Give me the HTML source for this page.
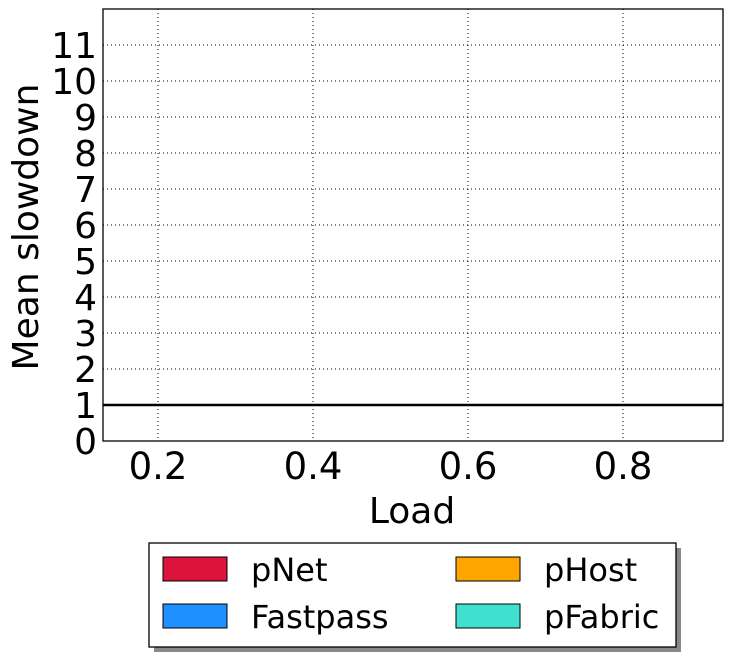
<!DOCTYPE html>
<html><head><meta charset="utf-8"><style>
body{margin:0;background:#fff;font-family:"Liberation Sans","DejaVu Sans",sans-serif;}
svg text{font-family:"DejaVu Sans","Liberation Sans",sans-serif;fill:#000;}
</style></head><body>
<svg id="chart" width="732" height="657">
<g id="grid"></g><g id="marks"></g><g id="axes"></g><g id="legend"></g>
</svg>
<script>
const loads=[0.2,0.4,0.6,0.8];
const pNet=[0,0,0,0];
const pHost=[0,0,0,0];
const fastpass=[0,0,0,0];
const pFabric=[0,0,0,0];
const yTicks=[0,1,2,3,4,5,6,7,8,9,10,11];
const xTicks=[0.2,0.4,0.6,0.8];
const refLine=[1];

const L=103,R=723,T=9,B=441;
const xMin=0.129,xMax=0.929,yMin=0,yMax=12;
const xs=v=>L+(v-xMin)/(xMax-xMin)*(R-L);
const ys=v=>B-(v-yMin)/(yMax-yMin)*(B-T);
const NS='http://www.w3.org/2000/svg';
function mk(tag,attrs,parent,text){const e=document.createElementNS(NS,tag);for(const k in attrs)e.setAttribute(k,attrs[k]);if(text!==undefined)e.textContent=text;parent.appendChild(e);return e;}
const grid=document.getElementById('grid'),marks=document.getElementById('marks'),axes=document.getElementById('axes'),leg=document.getElementById('legend');
yTicks.forEach(t=>{const y=ys(t);
 const g=mk('line',{x1:L,x2:R,y1:y,y2:y,stroke:'#000','stroke-width':1,'stroke-dasharray':'1,3'},grid);
 
 
 const tx=mk('text',{x:97,y:y+13,'text-anchor':'end','font-size':36},axes,String(t));
 
 
});
xTicks.forEach(t=>{const x=xs(t);
 const g=mk('line',{x1:x,x2:x,y1:T,y2:B,stroke:'#000','stroke-width':1,'stroke-dasharray':'1,3'},grid);
 
 
 const tx=mk('text',{x:x,y:479,'text-anchor':'middle','font-size':37},axes,t.toFixed(1));
 
 
});
const series=[['pnet',pNet,'#dc143c'],['fastpass',fastpass,'#1e90ff'],['phost',pHost,'#ffa500'],['pfabric',pFabric,'#40e0d0']];
const bw=20;
loads.forEach((ld,i)=>{series.forEach((s,j)=>{
 const x=xs(ld)-2*bw+j*bw;const v=s[1][i];
 const r=mk('rect',{x:x,y:ys(v),width:bw,height:Math.max(0,B-ys(v)),fill:s[2]},marks);
 
 
});});
refLine.forEach(v=>{const l=mk('line',{x1:L,x2:R,y1:ys(v),y2:ys(v),stroke:'#000','stroke-width':2.5},marks);
 
 });
const fr=mk('rect',{x:L,y:T,width:R-L,height:B-T,fill:'none',stroke:'#000','stroke-width':1.3},axes);


const xl=mk('text',{x:412,y:523,'text-anchor':'middle','font-size':36},axes,'Load');


const yl=mk('text',{x:0,y:0,'text-anchor':'middle','font-size':36,transform:'translate(38,227) rotate(-90)'},axes,'Mean slowdown');


const sh=mk('rect',{x:154,y:548,width:527,height:104,fill:'#888'},leg);


const lb=mk('rect',{x:149,y:543,width:527,height:104,fill:'#fff',stroke:'#000','stroke-width':1.3},leg);


const entries=[['pNet','#dc143c',163,557],['pHost','#ffa500',456,557],['Fastpass','#1e90ff',163,604],['pFabric','#40e0d0',456,604]];
entries.forEach(e=>{
 const g=mk('g',{},leg);
 
 
 mk('rect',{x:e[2],y:e[3],width:64,height:24,fill:e[1],stroke:'#000','stroke-width':1},g);
 mk('text',{x:e[2]+88,y:e[3]+24,'font-size':32},g,e[0]);
});
</script>
</body></html>
